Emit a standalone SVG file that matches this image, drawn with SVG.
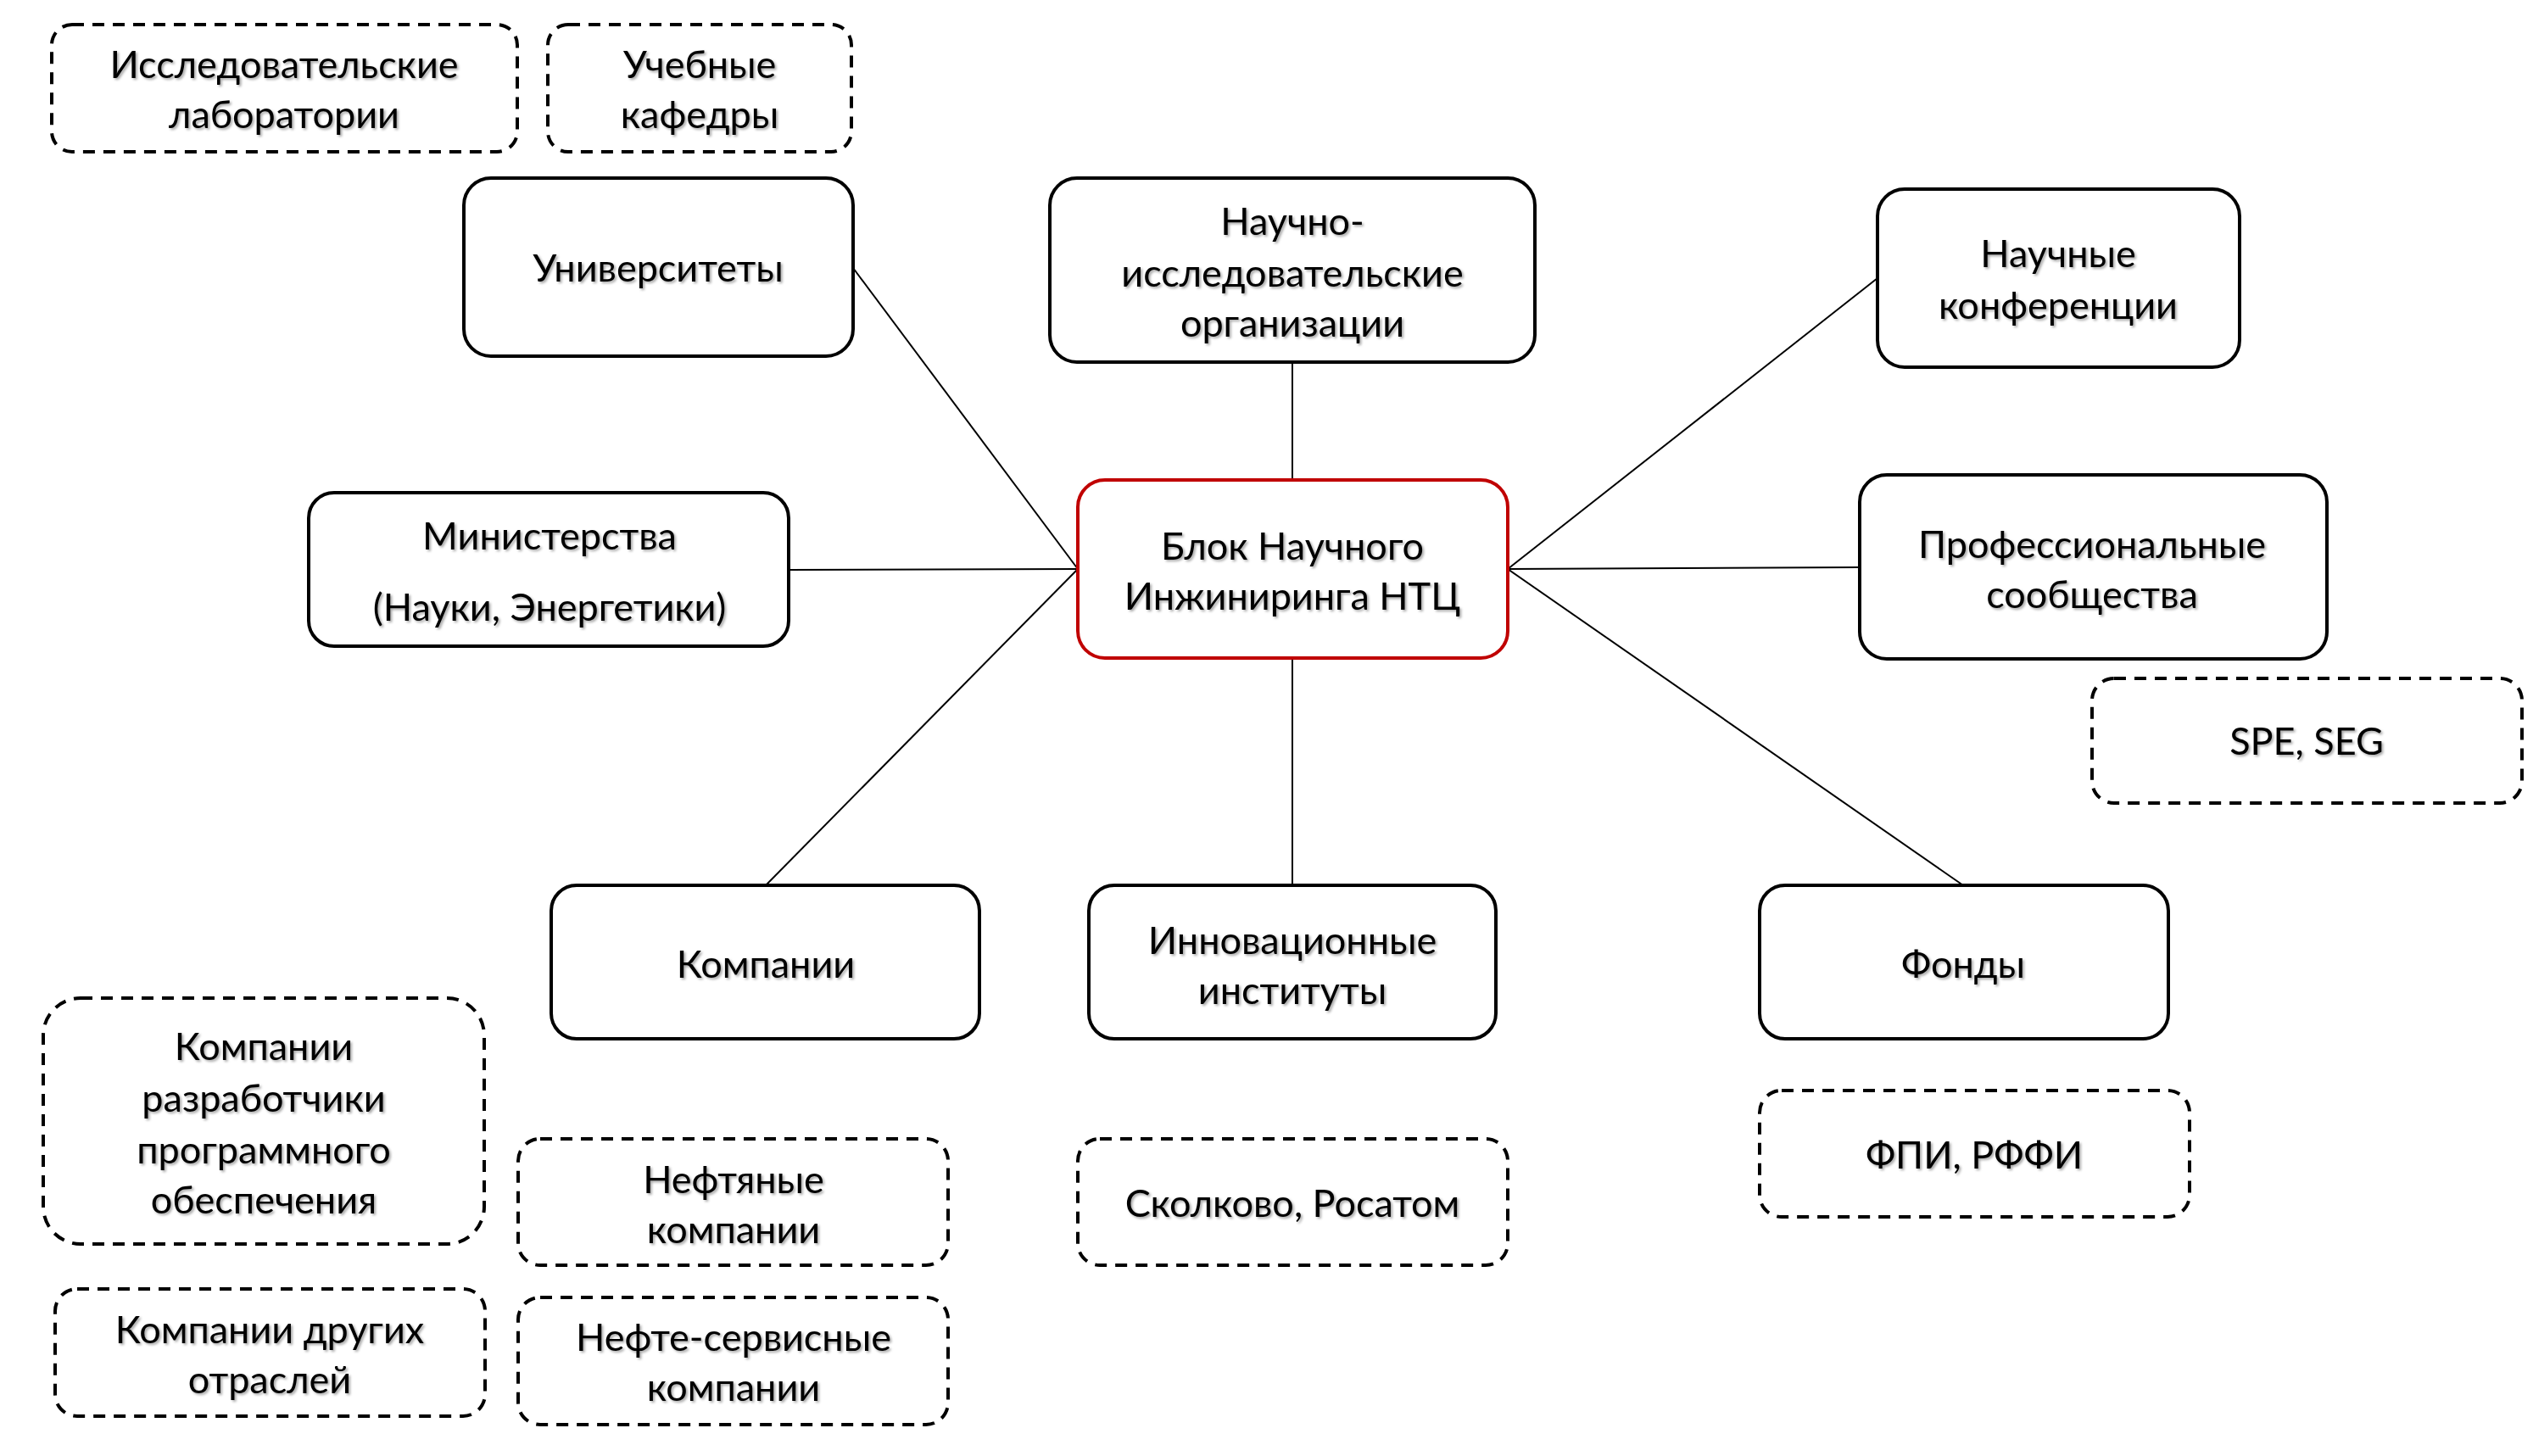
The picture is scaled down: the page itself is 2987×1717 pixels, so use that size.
<svg xmlns="http://www.w3.org/2000/svg" width="2987" height="1717" viewBox="0 0 2987 1717">
<defs>
<filter id="sh" x="-10%" y="-20%" width="120%" height="140%">
<feDropShadow dx="2" dy="2" stdDeviation="1.5" flood-color="#000" flood-opacity="0.35"/>
</filter>
</defs>
<style>
text{font-family:"Lato","Open Sans","Liberation Sans",sans-serif;font-size:45px;fill:#000;text-anchor:middle;filter:url(#sh)}
.box{fill:#fff;stroke:#000;stroke-width:4}
.main{fill:#fff;stroke:#C00000;stroke-width:4}
.dash{fill:#fff;stroke:#000;stroke-width:4;stroke-dasharray:14 10}
.conn line{stroke:#000;stroke-width:2}
</style>
<rect width="2987" height="1717" fill="#fff"/>
<g class="conn" id="connectors">
<line x1="1006" y1="316" x2="1271" y2="671"/>
<line x1="1524" y1="427" x2="1524" y2="566"/>
<line x1="2214" y1="328" x2="1778" y2="671"/>
<line x1="930" y1="672" x2="1271" y2="671"/>
<line x1="1778" y1="671" x2="2193" y2="669"/>
<line x1="903" y1="1044" x2="1271" y2="671"/>
<line x1="1524" y1="776" x2="1524" y2="1044"/>
<line x1="2315" y1="1044" x2="1778" y2="671"/>
</g>
<g id="labs"><rect class="dash" x="61" y="29" width="549" height="150" rx="24"/><text x="335" y="92">Исследовательские</text><text x="335" y="151">лаборатории</text></g>
<g id="chairs"><rect class="dash" x="646" y="29" width="358" height="150" rx="24"/><text x="825" y="92">Учебные</text><text x="825" y="151">кафедры</text></g>
<g id="universities"><rect class="box" x="547" y="210" width="459" height="210" rx="32"/><text x="776" y="332">Университеты</text></g>
<g id="nio"><rect class="box" x="1238" y="210" width="572" height="217" rx="32"/><text x="1524" y="277">Научно-</text><text x="1524" y="338">исследовательские</text><text x="1524" y="397">организации</text></g>
<g id="conferences"><rect class="box" x="2214" y="223" width="427" height="210" rx="32"/><text x="2427" y="315">Научные</text><text x="2427" y="376">конференции</text></g>
<g id="ministries"><rect class="box" x="364" y="581" width="566" height="181" rx="30"/><text x="648" y="648">Министерства</text><text x="648" y="732">(Науки, Энергетики)</text></g>
<g id="center"><rect class="main" x="1271" y="566" width="507" height="210" rx="32"/><text x="1524" y="660">Блок Научного</text><text x="1524" y="719">Инжиниринга НТЦ</text></g>
<g id="professional"><rect class="box" x="2193" y="560" width="551" height="217" rx="32"/><text x="2467" y="658">Профессиональные</text><text x="2467" y="717">сообщества</text></g>
<g id="spe"><rect class="dash" x="2467" y="800" width="507" height="147" rx="26"/><text x="2720" y="890">SPE, SEG</text></g>
<g id="companies"><rect class="box" x="650" y="1044" width="505" height="181" rx="30"/><text x="903" y="1153">Компании</text></g>
<g id="innovation"><rect class="box" x="1284" y="1044" width="480" height="181" rx="30"/><text x="1524" y="1125">Инновационные</text><text x="1524" y="1184">институты</text></g>
<g id="funds"><rect class="box" x="2075" y="1044" width="482" height="181" rx="30"/><text x="2315" y="1153">Фонды</text></g>
<g id="software"><rect class="dash" x="51" y="1177" width="520" height="290" rx="44"/><text x="311" y="1250">Компании</text><text x="311" y="1311">разработчики</text><text x="311" y="1372">программного</text><text x="311" y="1431">обеспечения</text></g>
<g id="oil"><rect class="dash" x="611" y="1343" width="507" height="149" rx="26"/><text x="865" y="1407">Нефтяные</text><text x="865" y="1466">компании</text></g>
<g id="skolkovo"><rect class="dash" x="1271" y="1343" width="507" height="149" rx="26"/><text x="1524" y="1435">Сколково, Росатом</text></g>
<g id="fpi"><rect class="dash" x="2075" y="1286" width="507" height="149" rx="26"/><text x="2328" y="1378">ФПИ, РФФИ</text></g>
<g id="other"><rect class="dash" x="65" y="1520" width="507" height="150" rx="26"/><text x="318" y="1584">Компании других</text><text x="318" y="1643">отраслей</text></g>
<g id="oilservice"><rect class="dash" x="611" y="1530" width="507" height="150" rx="26"/><text x="865" y="1593">Нефте-сервисные</text><text x="865" y="1652">компании</text></g>
</svg>
